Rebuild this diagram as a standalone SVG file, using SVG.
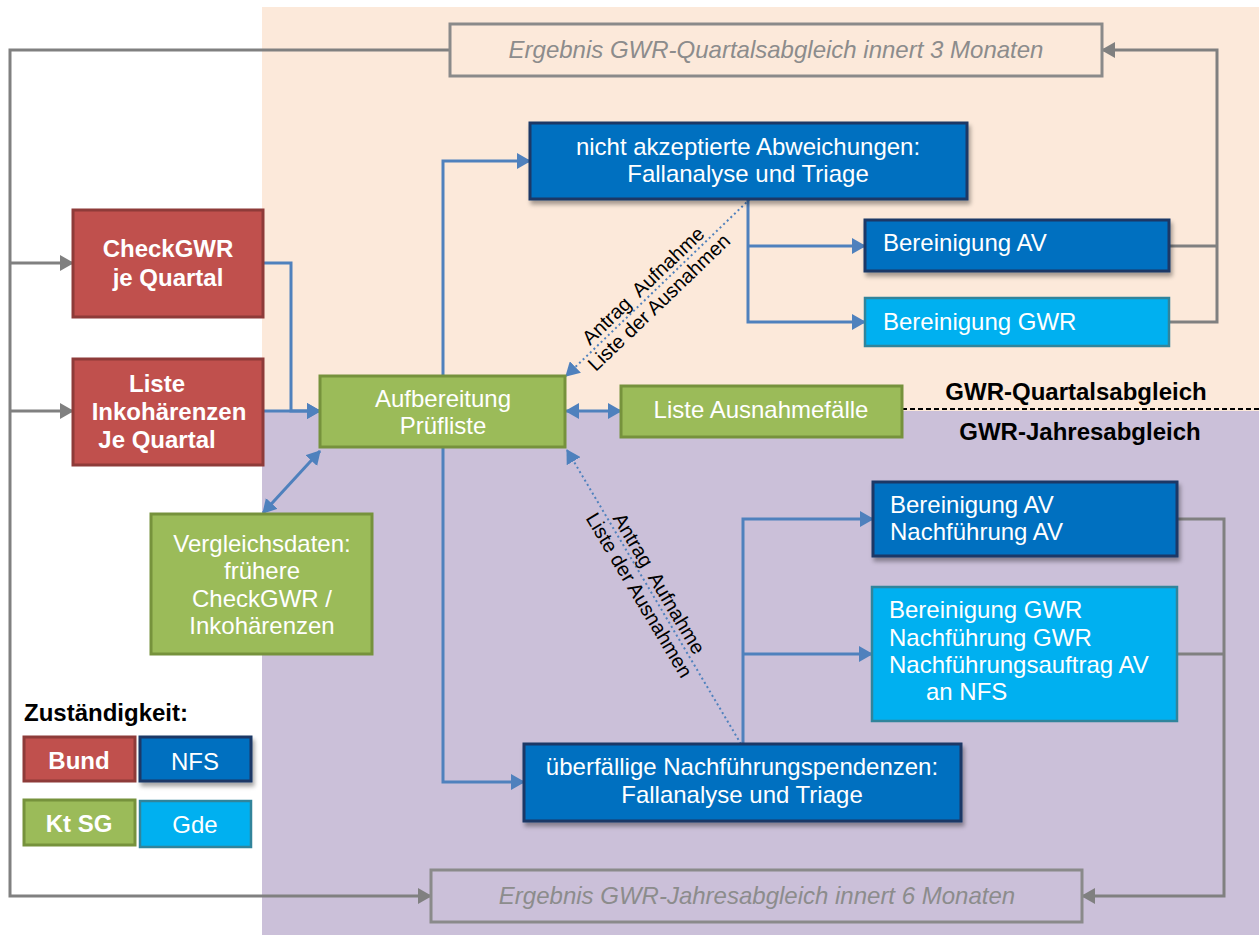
<svg xmlns="http://www.w3.org/2000/svg" width="1259" height="935" viewBox="0 0 1259 935">
<style>
text{font-family:"Liberation Sans",Arial,sans-serif;}
.t24{font-size:24px;fill:#fff;}
.b24{font-size:24px;fill:#fff;font-weight:bold;}
.res{font-size:24px;fill:#8c8c8c;font-style:italic;}
.lbl{font-size:20px;fill:#000;white-space:pre;}
.hd{font-size:24px;font-weight:bold;fill:#000;}
.red{fill:#C0504D;stroke:#8E3B39;stroke-width:3;}
.dblue{fill:#0070C0;stroke:#1C3766;stroke-width:3;}
.lblue{fill:#00B0F0;stroke:#31849B;stroke-width:2.5;}
.green{fill:#9BBB59;stroke:#76923C;stroke-width:3;}
.resbox{fill:none;stroke:#8a8a8a;stroke-width:3;}
.bl{fill:none;stroke:#4F81BD;stroke-width:3;}
.gl{fill:none;stroke:#808080;stroke-width:3;}
.dot{fill:none;stroke:#4F81BD;stroke-width:2;stroke-dasharray:2 3;}
</style>
<defs>
<marker id="ab" markerUnits="userSpaceOnUse" markerWidth="14" markerHeight="16" refX="13" refY="8" orient="auto-start-reverse">
<path d="M0,0 L14,8 L0,16 z" fill="#4F81BD"/>
</marker>
<marker id="ag" markerUnits="userSpaceOnUse" markerWidth="14" markerHeight="16" refX="13" refY="8" orient="auto-start-reverse">
<path d="M0,0 L14,8 L0,16 z" fill="#808080"/>
</marker>
<filter id="sh" x="-5%" y="-10%" width="115%" height="135%">
<feDropShadow dx="2" dy="4" stdDeviation="2" flood-color="#000" flood-opacity="0.35"/>
</filter>
</defs>

<!-- backgrounds -->
<rect x="262" y="7" width="997" height="404" fill="#FCE9DA"/>
<rect x="262" y="411" width="997" height="524" fill="#CBC0D9"/>
<line x1="902" y1="409" x2="1259" y2="409" stroke="#000" stroke-width="2" stroke-dasharray="5 3"/>
<text class="hd" x="1076" y="400" text-anchor="middle">GWR-Quartalsabgleich</text>
<text class="hd" x="1080" y="440" text-anchor="middle">GWR-Jahresabgleich</text>

<g id="connectors">
<!-- gray feedback loops -->
<polyline class="gl" points="450,50 10,50 10,896 431,896" marker-end="url(#ag)"/>
<line class="gl" x1="10" y1="263" x2="73" y2="263" marker-end="url(#ag)"/>
<line class="gl" x1="10" y1="411" x2="73" y2="411" marker-end="url(#ag)"/>
<polyline class="gl" points="1169,322 1217,322 1217,50 1102,50" marker-end="url(#ag)"/>
<line class="gl" x1="1169" y1="246" x2="1217" y2="246"/>
<polyline class="gl" points="1177,519 1224,519 1224,896 1082,896" marker-end="url(#ag)"/>
<line class="gl" x1="1177" y1="654" x2="1224" y2="654"/>
<!-- blue flows -->
<polyline class="bl" points="263,263 291,263 291,411 320,411" marker-end="url(#ab)"/>
<line class="bl" x1="263" y1="411" x2="320" y2="411" marker-end="url(#ab)"/>
<polyline class="bl" points="443,376 443,161 530,161" marker-end="url(#ab)"/>
<polyline class="bl" points="443,447 443,782 524,782" marker-end="url(#ab)"/>
<line class="bl" x1="566" y1="411" x2="621" y2="411" marker-start="url(#ab)" marker-end="url(#ab)"/>
<line class="bl" x1="320" y1="451" x2="263" y2="513" marker-start="url(#ab)" marker-end="url(#ab)"/>
<polyline class="bl" points="748,199 748,322 865,322" marker-end="url(#ab)"/>
<line class="bl" x1="748" y1="246" x2="865" y2="246" marker-end="url(#ab)"/>
<polyline class="bl" points="743,744 743,519 873,519" marker-end="url(#ab)"/>
<line class="bl" x1="743" y1="654" x2="872" y2="654" marker-end="url(#ab)"/>
<!-- dotted -->
<line class="dot" x1="750" y1="199" x2="566" y2="376" marker-end="url(#ab)"/>
<line class="dot" x1="741" y1="744" x2="567" y2="450" marker-end="url(#ab)"/>
<g transform="translate(652,295) rotate(-43.7)">
<text class="lbl" x="0" y="-6" text-anchor="middle">Antrag  Aufnahme</text>
<text class="lbl" x="0" y="17" text-anchor="middle">Liste der Ausnahmen</text>
</g>
<g transform="translate(648,590) rotate(59.2)">
<text class="lbl" x="0" y="-6" text-anchor="middle">Antrag  Aufnahme</text>
<text class="lbl" x="0" y="17" text-anchor="middle">Liste der Ausnahmen</text>
</g>
</g>

<g id="res-quartal">
<rect class="resbox" x="450" y="24" width="652" height="52"/>
<text class="res" x="776" y="58" text-anchor="middle">Ergebnis GWR-Quartalsabgleich innert 3 Monaten</text>
</g>
<g id="res-jahr">
<rect class="resbox" x="431" y="870" width="651" height="52"/>
<text class="res" x="757" y="904" text-anchor="middle">Ergebnis GWR-Jahresabgleich innert 6 Monaten</text>
</g>

<g id="nicht-akzeptiert">
<rect class="dblue" x="530" y="123" width="437" height="76" filter="url(#sh)"/>
<text class="t24" x="748" y="155" text-anchor="middle">nicht akzeptierte Abweichungen:</text>
<text class="t24" x="748" y="182" text-anchor="middle">Fallanalyse und Triage</text>
</g>
<g id="bereinigung-av-q">
<rect class="dblue" x="865" y="220" width="304" height="51" filter="url(#sh)"/>
<text class="t24" x="883" y="251">Bereinigung AV</text>
</g>
<g id="bereinigung-gwr-q">
<rect class="lblue" x="865" y="298" width="304" height="48"/>
<text class="t24" x="883" y="330">Bereinigung GWR</text>
</g>
<g id="checkgwr">
<rect class="red" x="73" y="210" width="190" height="107"/>
<text class="b24" x="168" y="257" text-anchor="middle">CheckGWR</text>
<text class="b24" x="168" y="286" text-anchor="middle">je Quartal</text>
</g>
<g id="liste-inkoh">
<rect class="red" x="73" y="359" width="190" height="106"/>
<text class="b24" x="157" y="392" text-anchor="middle">Liste</text>
<text class="b24" x="169" y="420" text-anchor="middle">Inkohärenzen</text>
<text class="b24" x="157" y="448" text-anchor="middle">Je Quartal</text>
</g>
<g id="aufbereitung">
<rect class="green" x="320" y="376" width="245" height="71"/>
<text class="t24" x="443" y="407" text-anchor="middle">Aufbereitung</text>
<text class="t24" x="443" y="434" text-anchor="middle">Prüfliste</text>
</g>
<g id="liste-ausnahme">
<rect class="green" x="621" y="386" width="281" height="51"/>
<text class="t24" x="761" y="418" text-anchor="middle">Liste Ausnahmefälle</text>
</g>
<g id="vergleichsdaten">
<rect class="green" x="151" y="514" width="221" height="140"/>
<text class="t24" x="262" y="552" text-anchor="middle">Vergleichsdaten:</text>
<text class="t24" x="262" y="579" text-anchor="middle">frühere</text>
<text class="t24" x="262" y="607" text-anchor="middle">CheckGWR /</text>
<text class="t24" x="262" y="634" text-anchor="middle">Inkohärenzen</text>
</g>
<g id="bereinigung-av-j">
<rect class="dblue" x="873" y="482" width="304" height="74" filter="url(#sh)"/>
<text class="t24" x="890" y="513">Bereinigung AV</text>
<text class="t24" x="890" y="540">Nachführung AV</text>
</g>
<g id="bereinigung-gwr-j">
<rect class="lblue" x="872" y="587" width="305" height="134"/>
<text class="t24" x="889" y="618">Bereinigung GWR</text>
<text class="t24" x="889" y="646">Nachführung GWR</text>
<text class="t24" x="889" y="673">Nachführungsauftrag AV</text>
<text class="t24" x="926" y="700">an NFS</text>
</g>
<g id="ueberfaellig">
<rect class="dblue" x="524" y="744" width="437" height="77" filter="url(#sh)"/>
<text class="t24" x="742" y="775" text-anchor="middle">überfällige Nachführungspendenzen:</text>
<text class="t24" x="742" y="803" text-anchor="middle">Fallanalyse und Triage</text>
</g>

<g id="legend">
<text class="hd" x="24" y="721">Zuständigkeit:</text>
<rect class="red" x="24" y="737" width="111" height="44"/>
<text class="b24" x="79" y="769" text-anchor="middle">Bund</text>
<rect class="dblue" x="140" y="737" width="111" height="44" filter="url(#sh)"/>
<text class="t24" x="195" y="770" text-anchor="middle">NFS</text>
<rect class="green" x="24" y="800" width="111" height="45"/>
<text class="b24" x="79" y="832" text-anchor="middle">Kt SG</text>
<rect class="lblue" x="140" y="801" width="111" height="46"/>
<text class="t24" x="195" y="833" text-anchor="middle">Gde</text>
</g>
</svg>
